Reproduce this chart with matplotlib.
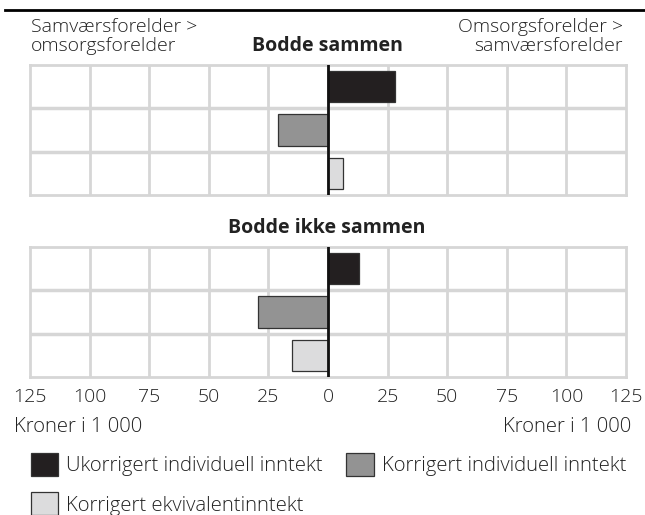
import numpy as np
import matplotlib
matplotlib.use("Agg")
import matplotlib.pyplot as plt
from matplotlib.patches import Patch

plt.rcParams['font.family'] = ['Open Sans', 'DejaVu Sans']

# data (kroner i 1 000)
series = ["Ukorrigert individuell inntekt", "Korrigert individuell inntekt",
          "Korrigert ekvivalentinntekt"]
colors = ["#231f20", "#939393", "#dcdcdd"]
bodde_sammen = [28.3, -21.0, 6.1]
bodde_ikke_sammen = [13.2, -29.2, -15.1]
ticks = [-125, -100, -75, -50, -25, 0, 25, 50, 75, 100, 125]
tick_labels = [str(abs(t)) for t in ticks]

W, H = 645, 515
fig = plt.figure(figsize=(W / 100, H / 100), dpi=100)

grid_col = "#d6d6d6"
FS = 14
FS2 = 14.6
TC = "#222222"


def panel(top_px, values):
    ax = fig.add_axes([30 / W, 1 - (top_px + 130) / H, 596 / W, 130 / H])
    ax.set_xlim(-125, 125)
    ax.set_ylim(2.5, -0.5)
    for t in ticks[1:-1]:
        ax.axvline(t, color=grid_col, lw=2, zorder=0)
    for y in [0.5, 1.5]:
        ax.axhline(y, color=grid_col, lw=2.5, zorder=0)
    for s in ax.spines.values():
        s.set_color(grid_col)
        s.set_linewidth(2)
    ax.barh(range(3), values, height=0.72, color=colors,
            edgecolor="#333333", linewidth=0.9, zorder=2)
    ax.axvline(0, color="#111111", lw=2, zorder=3)
    ax.set_yticks([])
    ax.tick_params(length=0)
    return ax


ax1 = panel(65, bodde_sammen)
ax1.set_xticks([])
ax2 = panel(247, bodde_ikke_sammen)
ax2.set_xticks(ticks)
ax2.set_xticklabels(tick_labels, fontsize=FS, color=TC, fontweight="light")
ax2.tick_params(axis="x", pad=8)

# header line
fig.add_artist(plt.Line2D([5 / W, 1], [1 - 10 / H, 1 - 10 / H],
                          color="black", lw=2))

txt = dict(color=TC)
fig.text(31 / W, 1 - 18 / H, "Samværsforelder >\nomsorgsforelder",
         ha="left", va="top", linespacing=1.1, fontweight="light",
         fontsize=FS, **txt)
fig.text(623 / W, 1 - 18 / H, "Omsorgsforelder >\nsamværsforelder",
         ha="right", va="top", linespacing=1.1, multialignment="right",
         fontweight="light", fontsize=FS, **txt)
fig.text(327 / W, 1 - 46 / H, "Bodde sammen", ha="center", va="center",
         fontweight="bold", fontsize=FS, **txt)
fig.text(327 / W, 1 - 228 / H, "Bodde ikke sammen", ha="center", va="center",
         fontweight="bold", fontsize=FS, **txt)
fig.text(14 / W, 1 - 427 / H, "Kroner i 1 000", ha="left", va="center",
         fontweight="light", fontsize=FS2, **txt)
fig.text(631 / W, 1 - 427 / H, "Kroner i 1 000", ha="right", va="center",
         fontweight="light", fontsize=FS2, **txt)

handles = [Patch(facecolor=c, edgecolor="#333333", linewidth=0.9) for c in colors]
order = [0, 2, 1]
leg = fig.legend([handles[i] for i in order], [series[i] for i in order],
                 loc="upper left", bbox_to_anchor=(31 / W, 1 - 453 / H), ncol=2,
                 frameon=False, fontsize=FS2, handlelength=1.35, handleheight=1.35,
                 handletextpad=0.4, columnspacing=1.15, labelspacing=0.8,
                 borderpad=0, borderaxespad=0, labelcolor=TC)
for t in leg.get_texts():
    t.set_fontweight("light")

fig.savefig("out.png", dpi=100)
